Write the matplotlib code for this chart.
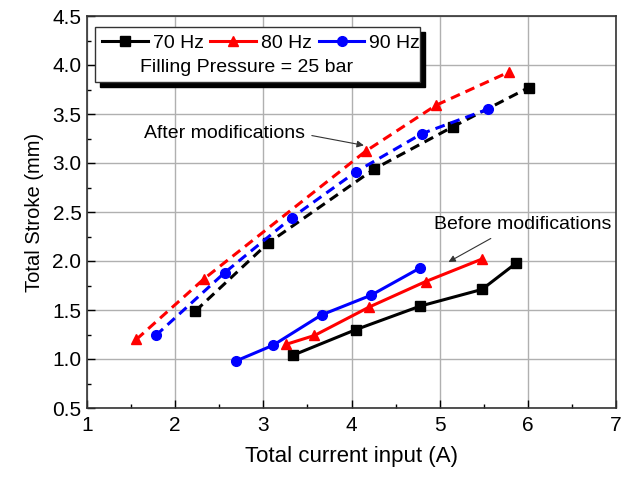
import matplotlib
matplotlib.use("Agg")
import matplotlib.pyplot as plt
from matplotlib.patches import Rectangle
from matplotlib.lines import Line2D

plt.rcParams['font.family'] = ['Liberation Sans', 'DejaVu Sans']

# After modifications (dashed)
x70_after = [2.23, 3.05, 4.26, 5.15, 6.01]
y70_after = [1.49, 2.18, 2.94, 3.37, 3.77]
x80_after = [1.56, 2.33, 4.16, 4.96, 5.79]
y80_after = [1.20, 1.82, 3.12, 3.59, 3.93]
x90_after = [1.78, 2.56, 3.32, 4.05, 4.80, 5.55]
y90_after = [1.24, 1.88, 2.44, 2.91, 3.30, 3.55]

# Before modifications (solid)
x70_before = [3.34, 4.05, 4.78, 5.48, 5.87]
y70_before = [1.04, 1.30, 1.54, 1.71, 1.98]
x80_before = [3.26, 3.58, 4.20, 4.84, 5.48]
y80_before = [1.15, 1.24, 1.53, 1.79, 2.02]
x90_before = [2.69, 3.11, 3.66, 4.22, 4.78]
y90_before = [0.98, 1.14, 1.45, 1.65, 1.93]

labels = ['70 Hz', '80 Hz', '90 Hz']
colors = ['black', 'red', 'blue']
markers = ['s', '^', 'o']

fig = plt.figure(figsize=(6.24, 4.78), dpi=100)
L, R, T, B = 87, 616, 16, 408
ax = fig.add_axes([L/624, 1-B/478, (R-L)/624, (B-T)/478])

afters = [(x70_after, y70_after), (x80_after, y80_after), (x90_after, y90_after)]
befores = [(x70_before, y70_before), (x80_before, y80_before), (x90_before, y90_before)]

for (x, y), c, m in zip(afters, colors, markers):
    ax.plot(x, y, color=c, marker=m, ms=7, lw=2.2, dashes=(3.2, 2.0), zorder=3)
for (x, y), c, m in zip(befores, colors, markers):
    ax.plot(x, y, color=c, marker=m, ms=7, lw=2.2, zorder=3)

ax.set_xlim(1, 7)
ax.set_ylim(0.5, 4.5)
ax.set_xticks([1, 2, 3, 4, 5, 6, 7])
ax.set_yticks([0.5, 1.0, 1.5, 2.0, 2.5, 3.0, 3.5, 4.0, 4.5])
ax.set_yticklabels(['0.5', '1.0', '1.5', '2.0', '2.5', '3.0', '3.5', '4.0', '4.5'])
ax.set_xticks([1.5, 2.5, 3.5, 4.5, 5.5, 6.5], minor=True)
ax.set_yticks([0.75, 1.25, 1.75, 2.25, 2.75, 3.25, 3.75, 4.25], minor=True)
ax.tick_params(which='both', direction='in', labelsize=15, top=False, right=False)
ax.tick_params(which='major', length=6, width=1)
ax.tick_params(which='minor', length=3, width=1)
ax.tick_params(axis='x', pad=6)
ax.tick_params(axis='y', pad=4)
ax.grid(True, which='major', color='#b0b0b0', lw=1.0, zorder=0)
for s in ax.spines.values():
    s.set_linewidth(1.2)
    s.set_color('#333333')

ax.set_xlabel('Total current input (A)', fontsize=16, labelpad=8)
ax.set_ylabel('Total Stroke (mm)', fontsize=14.5, labelpad=6)

# Legend box with shadow
W, H = R - L, B - T
bx0 = (95 - L) / W
bx1 = (420 - L) / W
by1 = 1 - (27 - T) / H
by0 = 1 - (82 - T) / H
ax.add_patch(Rectangle((bx0 + 5 / W, by0 - 5 / H), bx1 - bx0, by1 - by0, transform=ax.transAxes,
                       facecolor='black', edgecolor='black', zorder=5, clip_on=False))
ax.add_patch(Rectangle((bx0, by0), bx1 - bx0, by1 - by0, transform=ax.transAxes,
                       facecolor='white', edgecolor='#333333', lw=1.0, zorder=6, clip_on=False))
handles = [Line2D([], [], color=c, marker=m, ms=7, lw=2.2) for c, m in zip(colors, markers)]
leg = ax.legend(handles, labels, ncol=3, loc='center left',
                bbox_to_anchor=((102 - L) / W, 1 - (43 - T) / H),
                frameon=False, fontsize=14, handlelength=2.35, handletextpad=0.25,
                columnspacing=0.35, borderaxespad=0.0, borderpad=0.0)
leg.set_zorder(7)
ax.text((247 - L) / W, 1 - (67 - T) / H, 'Filling Pressure = 25 bar', transform=ax.transAxes,
        ha='center', va='center', fontsize=14, zorder=7)

arrow_kw = dict(arrowstyle='-|>', color='#333333', lw=0.8, mutation_scale=10,
                shrinkA=0, shrinkB=0)
ax.text(2.56, 3.30, 'After modifications', fontsize=14, ha='center', va='center', zorder=8)
ax.annotate('', xy=(4.14, 3.18), xytext=(3.55, 3.28), arrowprops=arrow_kw, zorder=8)
ax.text(5.94, 2.37, 'Before modifications', fontsize=14, ha='center', va='center', zorder=8)
ax.annotate('', xy=(5.1, 1.99), xytext=(5.58, 2.23), arrowprops=arrow_kw, zorder=8)

fig.savefig('out.png', dpi=100)
